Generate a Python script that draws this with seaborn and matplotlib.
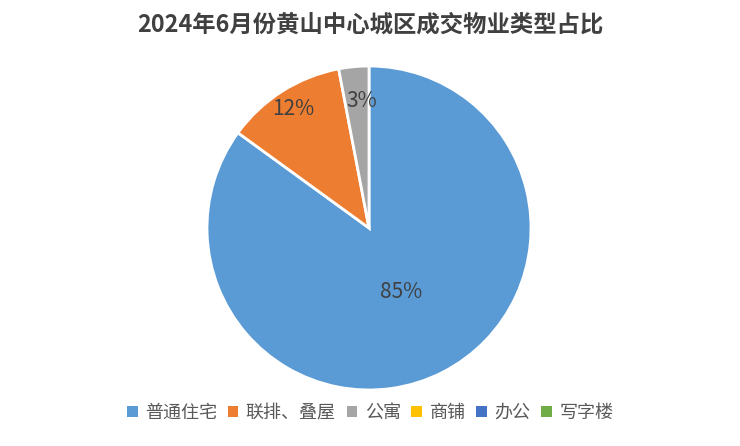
import matplotlib
matplotlib.use("Agg")
import matplotlib.pyplot as plt
from matplotlib.patches import Patch
import seaborn as sns

sns.set_theme(style="white")
plt.rcParams['font.family'] = ['Noto Sans CJK SC', 'DejaVu Sans']

# data
categories = ["普通住宅", "联排、叠屋", "公寓", "商铺", "办公", "写字楼"]
shares = [85, 12, 3, 0, 0, 0]
colors = sns.color_palette(["#5B9BD5", "#ED7D31", "#A5A5A5", "#FFC000", "#4472C4", "#70AD47"])
label_dist = [0.44, 0.87, 0.79, 0, 0, 0]

title = "2024年6月份黄山中心城区成交物业类型占比"

fig = plt.figure(figsize=(7.4, 4.46), dpi=100)
fig.patch.set_facecolor("white")

# pie centre ~ (369, 228) px, radius ~162 px
R = 162
half = 1.05 * R
ax = fig.add_axes([(369 - half) / 740, (446 - 228 - half) / 446, 2 * half / 740, 2 * half / 446])

# only non-zero slices get wedges; legend keeps all categories
shown = [i for i, v in enumerate(shares) if v > 0]
wedges, texts, autotexts = ax.pie(
    [shares[i] for i in shown],
    colors=[colors[i] for i in shown],
    startangle=90,
    counterclock=False,
    autopct=lambda p: f"{p:.0f}%",
    pctdistance=0.6,
    wedgeprops=dict(edgecolor="white", linewidth=2),
    textprops=dict(color="#404040", fontsize=15),
)

# move each percent label to roughly where the original puts it
for t, i in zip(autotexts, shown):
    x, y = t.get_position()
    scale = label_dist[i] / 0.6
    t.set_position((x * scale + (0.03 if i == 2 else 0), y * scale))

ax.set_xlim(-1.05, 1.05)
ax.set_ylim(-1.05, 1.05)
ax.set_aspect("equal")
ax.axis("off")

fig.text(0.5, 1 - 25 / 446, title, ha="center", va="center",
         fontsize=16.8, fontweight="bold", color="#404040")

handles = [Patch(facecolor=c, edgecolor="none") for c in colors]
fig.legend(handles, categories, loc="center", bbox_to_anchor=(0.5, 1 - 413 / 446),
           ncol=len(categories), frameon=False, fontsize=13, labelcolor="#595959",
           handlelength=0.6, handleheight=0.6, handletextpad=0.4, columnspacing=0.6)

fig.savefig("out.png", dpi=100, facecolor="white")
